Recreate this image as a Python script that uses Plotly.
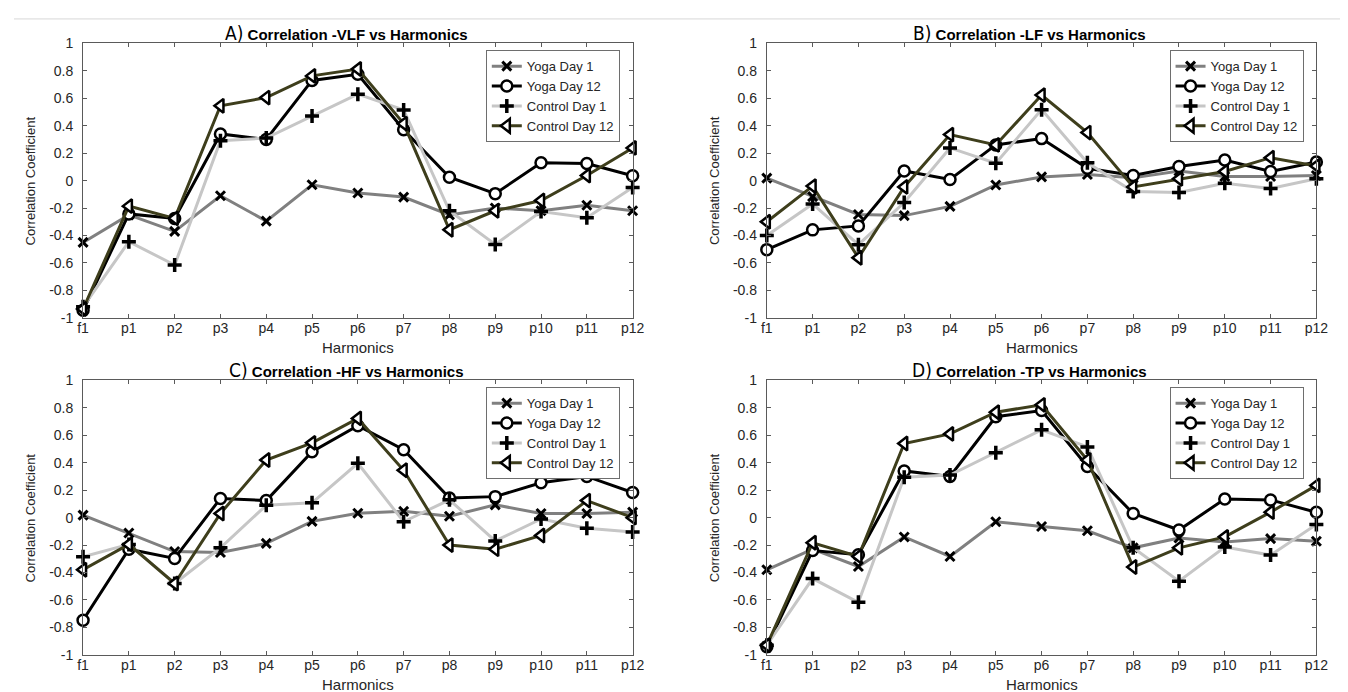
import plotly.graph_objects as go

# ---------------- data ----------------
categories = ['f1', 'p1', 'p2', 'p3', 'p4', 'p5', 'p6', 'p7', 'p8', 'p9', 'p10', 'p11', 'p12']
series_names = ['Yoga Day 1', 'Yoga Day 12', 'Control Day 1', 'Control Day 12']
ytick_vals = [-1, -0.8, -0.6, -0.4, -0.2, 0, 0.2, 0.4, 0.6, 0.8, 1]
ytick_text = ['-1', '-0.8', '-0.6', '-0.4', '-0.2', '0', '0.2', '0.4', '0.6', '0.8', '1']

panel_letters = ['A)', 'B)', 'C)', 'D)']
panel_titles = ['Correlation -VLF vs Harmonics', 'Correlation -LF vs Harmonics',
                'Correlation -HF vs Harmonics', 'Correlation -TP vs Harmonics']

# A) VLF
vlf_yoga_d1 = [-0.45, -0.25, -0.37, -0.11, -0.295, -0.03, -0.09, -0.12, -0.25, -0.20, -0.22, -0.18, -0.22]
vlf_yoga_d12 = [-0.945, -0.243, -0.276, 0.34, 0.30, 0.73, 0.775, 0.37, 0.025, -0.095, 0.13, 0.125, 0.035]
vlf_ctrl_d1 = [-0.92, -0.445, -0.615, 0.29, 0.31, 0.47, 0.63, 0.515, -0.22, -0.465, -0.225, -0.27, -0.05]
vlf_ctrl_d12 = [-0.935, -0.186, -0.275, 0.545, 0.605, 0.763, 0.813, 0.415, -0.358, -0.22, -0.145, 0.037, 0.238]

# B) LF
lf_yoga_d1 = [0.018, -0.117, -0.247, -0.255, -0.188, -0.032, 0.027, 0.044, 0.02, 0.07, 0.03, 0.03, 0.037]
lf_yoga_d12 = [-0.503, -0.359, -0.33, 0.07, 0.008, 0.26, 0.306, 0.09, 0.037, 0.103, 0.15, 0.067, 0.136]
lf_ctrl_d1 = [-0.40, -0.17, -0.467, -0.16, 0.238, 0.127, 0.517, 0.13, -0.08, -0.086, -0.02, -0.058, 0.013]
lf_ctrl_d12 = [-0.30, -0.04, -0.562, -0.046, 0.335, 0.26, 0.623, 0.35, -0.046, 0.013, 0.067, 0.167, 0.107]

# C) HF
hf_yoga_d1 = [0.018, -0.112, -0.247, -0.254, -0.188, -0.027, 0.032, 0.046, 0.01, 0.093, 0.03, 0.03, 0.04]
hf_yoga_d12 = [-0.747, -0.23, -0.297, 0.14, 0.124, 0.48, 0.67, 0.495, 0.143, 0.153, 0.254, 0.30, 0.183]
hf_ctrl_d1 = [-0.285, -0.195, -0.48, -0.22, 0.09, 0.108, 0.396, -0.03, 0.13, -0.17, -0.01, -0.077, -0.105]
hf_ctrl_d12 = [-0.38, -0.195, -0.48, 0.03, 0.42, 0.545, 0.723, 0.345, -0.20, -0.23, -0.13, 0.124, 0.0]

# D) TP
tp_yoga_d1 = [-0.38, -0.23, -0.356, -0.141, -0.283, -0.03, -0.065, -0.096, -0.22, -0.148, -0.177, -0.153, -0.172]
tp_yoga_d12 = [-0.94, -0.24, -0.27, 0.34, 0.30, 0.735, 0.78, 0.373, 0.03, -0.09, 0.136, 0.129, 0.039]
tp_ctrl_d1 = [-0.93, -0.444, -0.617, 0.294, 0.31, 0.473, 0.64, 0.515, -0.22, -0.463, -0.214, -0.273, -0.05]
tp_ctrl_d12 = [-0.93, -0.183, -0.283, 0.54, 0.61, 0.768, 0.822, 0.42, -0.36, -0.22, -0.14, 0.04, 0.235]

panels = [
    [vlf_yoga_d1, vlf_yoga_d12, vlf_ctrl_d1, vlf_ctrl_d12],
    [lf_yoga_d1, lf_yoga_d12, lf_ctrl_d1, lf_ctrl_d12],
    [hf_yoga_d1, hf_yoga_d12, hf_ctrl_d1, hf_ctrl_d12],
    [tp_yoga_d1, tp_yoga_d12, tp_ctrl_d1, tp_ctrl_d12],
]

# ---------------- styles ----------------
W, H = 1348, 692
FONT = 'Liberation Sans, Arial, sans-serif'
TXT = '#262626'
AXC = '#5a5a5a'

line_colors = ['#808080', '#000000', '#c6c6c6', '#3e3e1c']
marker_specs = [
    dict(symbol='x-thin', size=9, color='black', line=dict(color='black', width=3)),
    dict(symbol='circle', size=11, color='white', line=dict(color='black', width=2.5)),
    dict(symbol='cross-thin', size=10, color='black', line=dict(color='black', width=3.5)),
    dict(symbol='triangle-left', size=12, color='white', line=dict(color='black', width=2.5)),
]

# pixel boxes of the four plot areas (left, right, top, bottom)
boxes = [(70, 627, 28, 309), (763, 1320, 28, 309), (70, 627, 373, 654), (763, 1320, 373, 654)]

fig = go.Figure()
annotations = []
layout_extra = {}

for i, (series, box) in enumerate(zip(panels, boxes)):
    l, r, t, b = box
    sfx = '' if i == 0 else str(i + 1)
    legend_name = 'legend' if i == 0 else f'legend{i + 1}'
    for j, ys in enumerate(series):
        fig.add_trace(go.Scatter(
            x=categories, y=ys, name=series_names[j], mode='lines+markers',
            line=dict(color=line_colors[j], width=3),
            marker=marker_specs[j], cliponaxis=False,
            xaxis='x' + sfx, yaxis='y' + sfx, legend=legend_name,
        ))
    layout_extra['xaxis' + sfx] = dict(
        domain=[l / W, r / W], anchor='y' + sfx, type='category',
        categoryorder='array', categoryarray=categories, range=[0, len(categories) - 1],
        showline=True, linecolor=AXC, linewidth=1, mirror='ticks',
        ticks='inside', ticklen=4, tickcolor=AXC, showgrid=False, zeroline=False,
        ticklabelstandoff=-3,
        tickfont=dict(family=FONT, size=14, color=TXT), fixedrange=True,
    )
    layout_extra['yaxis' + sfx] = dict(
        domain=[1 - b / H, 1 - t / H], anchor='x' + sfx, range=[-1, 1],
        tickmode='array', tickvals=ytick_vals, ticktext=ytick_text,
        showline=True, linecolor=AXC, linewidth=1, mirror='ticks',
        ticks='inside', ticklen=4, tickcolor=AXC, showgrid=False, zeroline=False,
        ticklabelstandoff=6,
        tickfont=dict(family=FONT, size=14, color=TXT), fixedrange=True,
    )
    layout_extra[legend_name] = dict(
        x=(r - 13) / W, y=1 - (t + 7) / H, xanchor='right', yanchor='top',
        xref='paper', yref='paper',
        bgcolor='white', bordercolor='#6e6e6e', borderwidth=1,
        font=dict(family=FONT, size=13, color=TXT), tracegroupgap=0,
    )
    cx = (l + r) / 2
    # title
    annotations.append(dict(
        xref='paper', yref='paper', x=(cx - 12) / W, y=1 - (t - 11) / H,
        xanchor='center', yanchor='middle', showarrow=False,
        text=f"<span style='font-family:Liberation Sans Narrow, DejaVu Sans Condensed, sans-serif;font-size:19px'>{panel_letters[i]}</span> <b>{panel_titles[i]}</b>",
        font=dict(family=FONT, size=15, color='black'),
    ))
    # x label
    annotations.append(dict(
        xref='paper', yref='paper', x=cx / W, y=1 - (b + 30) / H,
        xanchor='center', yanchor='middle', showarrow=False,
        text='Harmonics', font=dict(family=FONT, size=15, color=TXT),
    ))
    # y label
    annotations.append(dict(
        xref='paper', yref='paper', x=(l - 53) / W, y=1 - ((t + b) / 2) / H,
        xanchor='center', yanchor='middle', showarrow=False, textangle=-90,
        text='Correlation Coefficient', font=dict(family=FONT, size=13, color=TXT),
    ))

fig.update_layout(
    width=W, height=H, margin=dict(l=0, r=0, t=0, b=0),
    paper_bgcolor='white', plot_bgcolor='white',
    showlegend=True, annotations=annotations,
    shapes=[dict(type='line', xref='paper', yref='paper', x0=0, x1=1,
                 y0=1 - 3 / H, y1=1 - 3 / H, line=dict(color='#d8d8d8', width=1))],
    **layout_extra,
)

fig.write_html('out.html')
